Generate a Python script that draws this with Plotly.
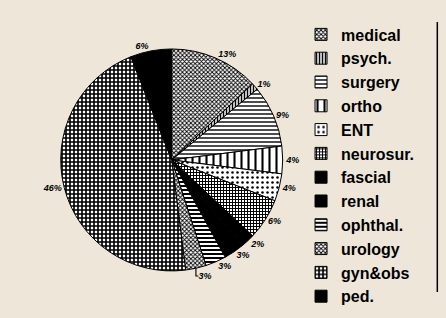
import plotly.graph_objects as go

labels = ["medical", "psych.", "surgery", "ortho", "ENT", "neurosur.", "fascial",
          "renal", "ophthal.", "urology", "gyn&obs", "ped."]
values = [13, 1, 9, 4, 4, 6, 2, 3, 3, 3, 46, 6]

shapes = ["x", "|", "-", "|", ".", "+", "", "", "-", "x", "+", ""]
sizes = [3, 3, 4, 7, 5, 3, 8, 8, 4, 3, 4, 8]
solid = [0.5, 0.5, 0.35, 0.3, 0.2, 0.55, 0.3, 0.3, 0.5, 0.5, 0.65, 0.3]
fills = ["white", "white", "white", "white", "white", "white", "black",
         "black", "white", "white", "white", "black"]

BG = "#EEE7D9"

fig = go.Figure(go.Pie(
    labels=labels,
    values=values,
    sort=False,
    direction="clockwise",
    rotation=0,
    textposition="outside",
    texttemplate="%{value}%",
    textfont=dict(family="Liberation Sans", size=9, color="black", style="italic", weight="bold"),
    marker=dict(
        colors=fills,
        line=dict(color="black", width=1),
        pattern=dict(shape=shapes, size=sizes, solidity=solid,
                     fgcolor="black", bgcolor=fills, fillmode="replace"),
    ),
    domain=dict(x=[0.068, 0.668], y=[0.148, 0.846]),
    hoverinfo="skip",
))

fig.update_layout(
    width=446, height=318,
    margin=dict(l=0, r=0, t=0, b=0),
    paper_bgcolor=BG,
    plot_bgcolor=BG,
    showlegend=True,
    legend=dict(
        x=0.666, y=0.945, xanchor="left", yanchor="top",
        font=dict(family="Liberation Sans", size=16, color="black", weight="bold"),
        bgcolor="rgba(0,0,0,0)",
        itemwidth=30,
    ),
    shapes=[dict(type="line", xref="paper", yref="paper",
                 x0=0.98, x1=0.98, y0=0.082, y1=0.931,
                 line=dict(color="black", width=1.5))],
)

fig.write_html("out.html")
